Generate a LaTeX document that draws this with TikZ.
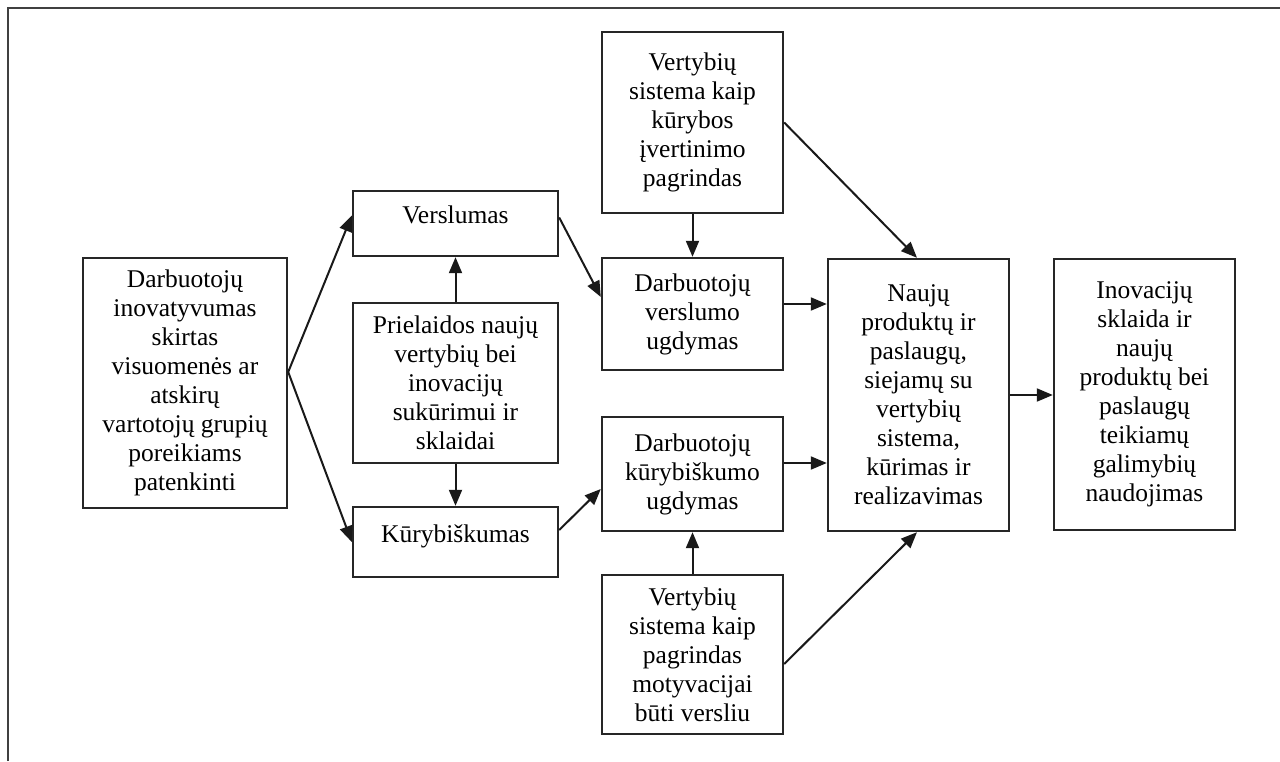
\documentclass[tikz,border=0pt]{standalone}
\usepackage{fontspec}
\setmainfont{Liberation Serif}
\usetikzlibrary{arrows.meta}
\begin{document}
\begin{tikzpicture}[x=1pt,y=-1pt,
  box/.style={draw=black!85, line width=2.4pt, inner sep=0pt, align=center,
    font=\fontsize{25.5}{29}\selectfont},
  onebox/.style={box, text height=17pt, text depth=17pt},
  arr/.style={draw=black!90, line width=2pt, -{Triangle[length=16pt,width=13pt]}}]
\useasboundingbox (0,0) rectangle (1280,761);
\draw[line width=2.8pt, black!75] (8,761) -- (8,8) -- (1280,8);

\node[box, minimum width=204pt, minimum height=250pt] (L) at (185,383)
  {Darbuotojų\\inovatyvumas\\skirtas\\visuomenės ar\\atskirų\\vartotojų grupių\\poreikiams\\patenkinti};
\node[onebox, minimum width=205pt, minimum height=65pt] (Vers) at (455.5,223.5) {Verslumas};
\node[box, minimum width=205pt, minimum height=160pt] (Priel) at (455.5,383)
  {Prielaidos naujų\\vertybių bei\\inovacijų\\sukūrimui ir\\sklaidai};
\node[onebox, minimum width=205pt, minimum height=70pt] (Kur) at (455.5,542) {Kūrybiškumas};
\node[box, minimum width=181pt, minimum height=181pt] (V1) at (692.5,122.5)
  {Vertybių\\sistema kaip\\kūrybos\\įvertinimo\\pagrindas};
\node[box, minimum width=181pt, minimum height=112pt] (DVU) at (692.5,314)
  {Darbuotojų\\verslumo\\ugdymas};
\node[box, minimum width=181pt, minimum height=114pt] (DKU) at (692.5,474)
  {Darbuotojų\\kūrybiškumo\\ugdymas};
\node[box, minimum width=181pt, minimum height=159pt] (V2) at (692.5,654.5)
  {Vertybių\\sistema kaip\\pagrindas\\motyvacijai\\būti versliu};
\node[box, minimum width=181pt, minimum height=272pt] (N) at (918.5,395)
  {Naujų\\produktų ir\\paslaugų,\\siejamų su\\vertybių\\sistema,\\kūrimas ir\\realizavimas};
\node[box, minimum width=181pt, minimum height=271pt] (I) at (1144.5,394.5)
  {Inovacijų\\sklaida ir\\naujų\\produktų bei\\paslaugų\\teikiamų\\galimybių\\naudojimas};

\coordinate (Lo) at ([yshift=11pt]L.east);
\draw[arr] (Lo) -- ([yshift=8pt]Vers.west);
\draw[arr] (Lo) -- (Kur.west);
\draw[arr] (Priel.north) -- (Vers.south);
\draw[arr] (Priel.south) -- (Kur.north);
\draw[arr] ([yshift=6pt]Vers.east) -- ([yshift=17pt]DVU.west);
\draw[arr] ([yshift=12pt]Kur.east) -- ([yshift=-15pt]DKU.west);
\draw[arr] (V1.south) -- (DVU.north);
\draw[arr] (V2.north) -- (DKU.south);
\draw[arr] (V1.east) -- ([xshift=-1.5pt]N.north);
\draw[arr] ([yshift=-9.5pt]V2.east) -- ([xshift=-1.5pt]N.south);
\coordinate (d1) at ([yshift=10pt]DVU.east);
\draw[arr] (d1) -- (N.west |- d1);
\coordinate (d2) at ([yshift=11pt]DKU.east);
\draw[arr] (d2) -- (N.west |- d2);
\coordinate (n1) at (N.east);
\draw[arr] (n1) -- (I.west |- n1);
\end{tikzpicture}
\end{document}
